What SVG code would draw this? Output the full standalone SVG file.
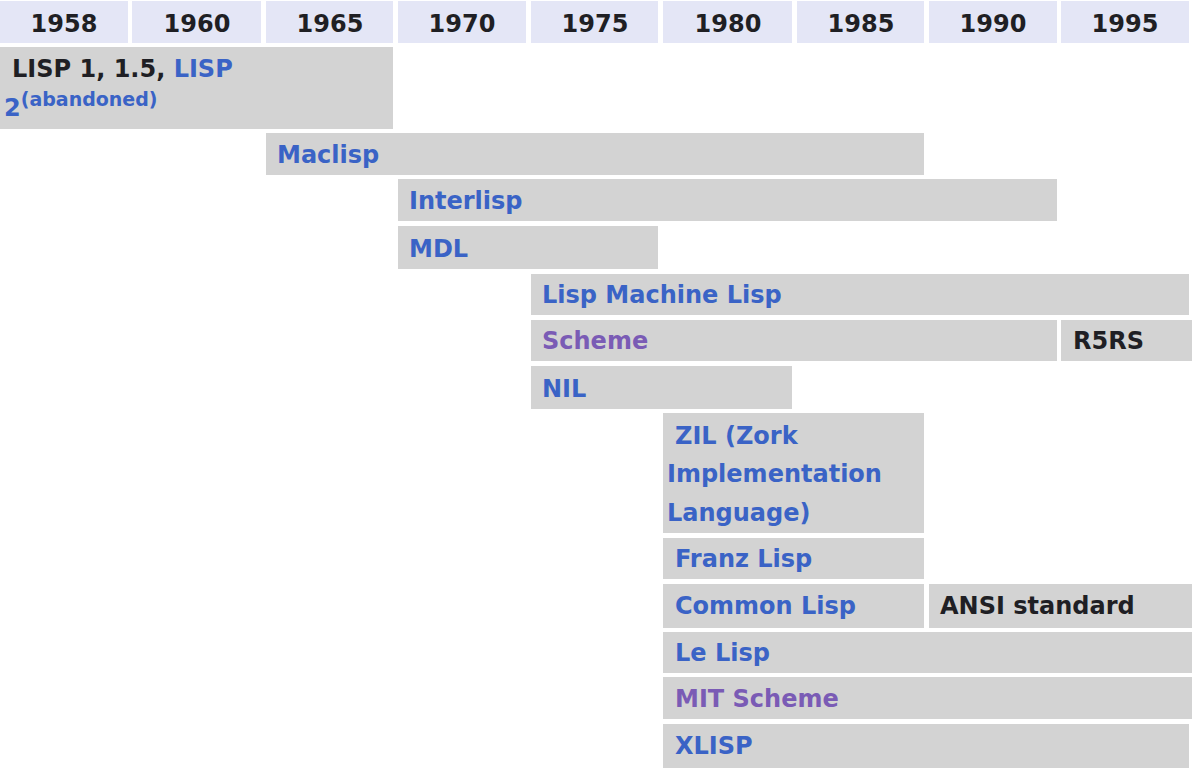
<svg xmlns="http://www.w3.org/2000/svg" width="1192" height="768" viewBox="0 0 1192 768">
<style>
text{font-family:"DejaVu Sans","Liberation Sans",sans-serif;font-weight:bold;font-size:24px}
.hd{fill:#e4e6f6}
.bx{fill:#d3d3d3}
.yr{fill:#1f1f24;text-anchor:middle}
.bl{fill:#3a63c6}
.pu{fill:#7a5bb5}
.bk{fill:#1f1f24}
.sup{font-size:19px}
</style>
<rect width="1192" height="768" fill="#ffffff"/>
<g id="header">
<rect class="hd" x="0" y="1" width="128" height="42"/><text class="yr" x="64" y="32">1958</text>
<rect class="hd" x="132" y="1" width="129" height="42"/><text class="yr" x="197" y="32">1960</text>
<rect class="hd" x="266" y="1" width="127" height="42"/><text class="yr" x="330" y="32">1965</text>
<rect class="hd" x="398" y="1" width="128" height="42"/><text class="yr" x="462" y="32">1970</text>
<rect class="hd" x="531" y="1" width="127" height="42"/><text class="yr" x="595" y="32">1975</text>
<rect class="hd" x="663" y="1" width="129" height="42"/><text class="yr" x="728" y="32">1980</text>
<rect class="hd" x="797" y="1" width="127" height="42"/><text class="yr" x="861" y="32">1985</text>
<rect class="hd" x="929" y="1" width="128" height="42"/><text class="yr" x="993" y="32">1990</text>
<rect class="hd" x="1061" y="1" width="128" height="42"/><text class="yr" x="1125" y="32">1995</text>
</g>
<g id="lisp">
<rect class="bx" x="0" y="47" width="393" height="82"/>
<text x="12" y="77"><tspan class="bk">LISP 1, 1.5, </tspan><tspan class="bl">LISP</tspan></text>
<text class="bl" x="4" y="116">2<tspan class="sup" dy="-10">(abandoned)</tspan></text>
</g>
<g id="maclisp"><rect class="bx" x="266" y="133" width="658" height="42"/><text class="bl" x="277" y="163">Maclisp</text></g>
<g id="interlisp"><rect class="bx" x="398" y="179" width="659" height="42"/><text class="bl" x="409" y="209">Interlisp</text></g>
<g id="mdl"><rect class="bx" x="398" y="226" width="260" height="43"/><text class="bl" x="409" y="257">MDL</text></g>
<g id="lml"><rect class="bx" x="531" y="274" width="658" height="41"/><text class="bl" x="542" y="303">Lisp Machine Lisp</text></g>
<g id="scheme"><rect class="bx" x="531" y="320" width="526" height="41"/><text class="pu" x="542" y="349">Scheme</text></g>
<g id="r5rs"><rect class="bx" x="1061" y="320" width="131" height="41"/><text class="bk" x="1073" y="349">R5RS</text></g>
<g id="nil"><rect class="bx" x="531" y="366" width="261" height="43"/><text class="bl" x="542" y="397">NIL</text></g>
<g id="zil"><rect class="bx" x="663" y="413" width="261" height="120"/>
<text class="bl" x="675" y="444">ZIL (Zork</text>
<text class="bl" x="667" y="482">Implementation</text>
<text class="bl" x="667" y="521">Language)</text></g>
<g id="franz"><rect class="bx" x="663" y="538" width="261" height="41"/><text class="bl" x="675" y="567">Franz Lisp</text></g>
<g id="commonlisp"><rect class="bx" x="663" y="584" width="261" height="44"/><text class="bl" x="675" y="614">Common Lisp</text></g>
<g id="ansi"><rect class="bx" x="929" y="584" width="263" height="44"/><text class="bk" x="940" y="614">ANSI standard</text></g>
<g id="lelisp"><rect class="bx" x="663" y="632" width="529" height="41"/><text class="bl" x="675" y="661">Le Lisp</text></g>
<g id="mitscheme"><rect class="bx" x="663" y="677" width="529" height="42"/><text class="pu" x="675" y="707">MIT Scheme</text></g>
<g id="xlisp"><rect class="bx" x="663" y="724" width="526" height="44"/><text class="bl" x="675" y="754">XLISP</text></g>
<g id="connectors"></g>
</svg>
